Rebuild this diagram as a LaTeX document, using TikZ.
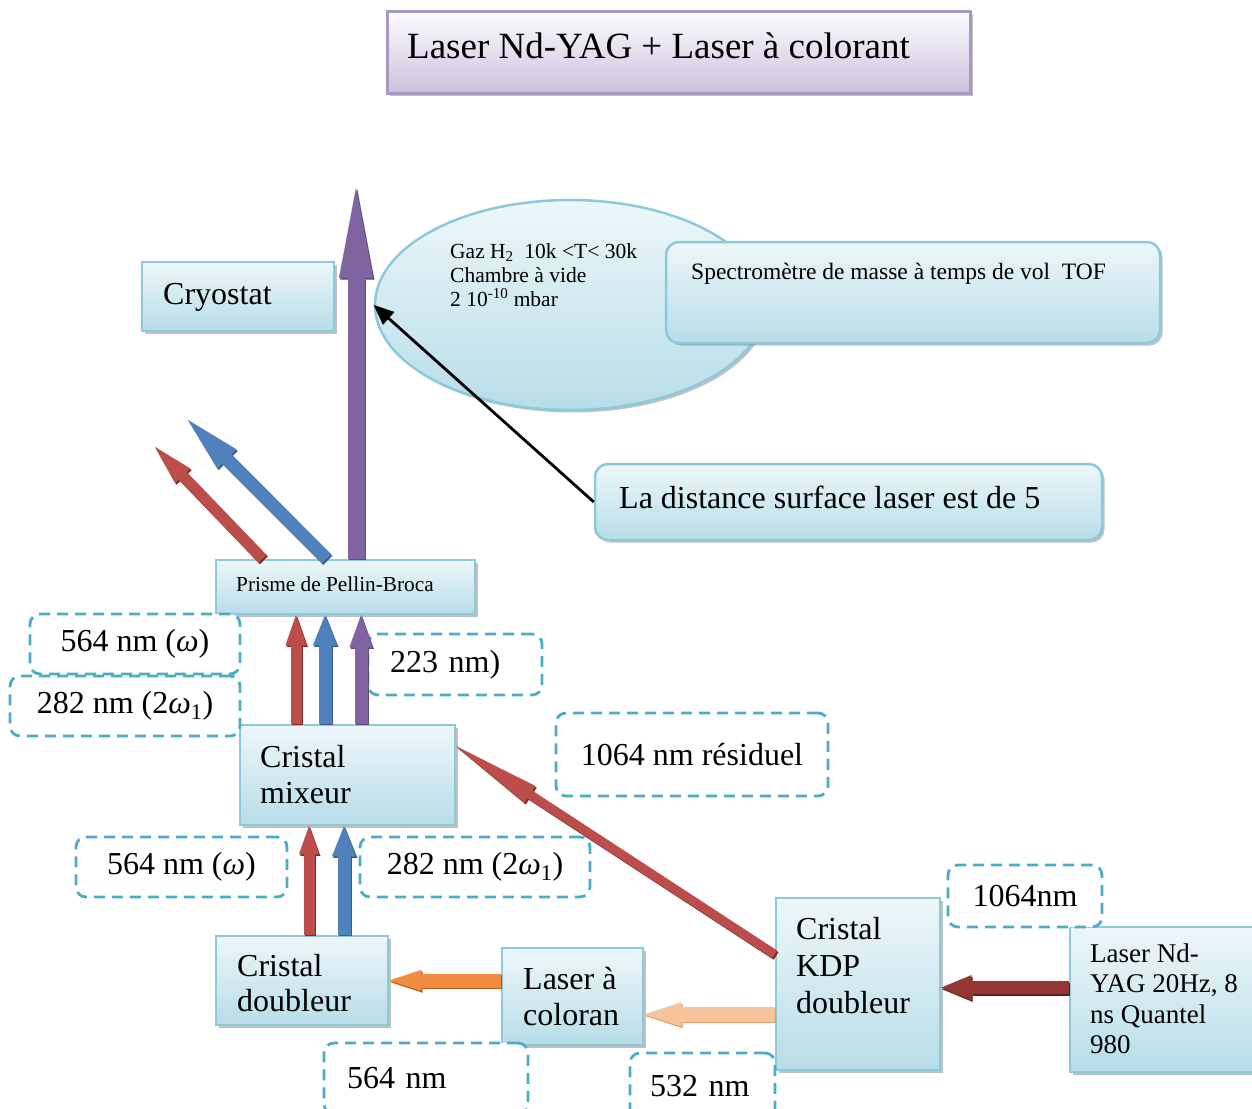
\documentclass[tikz,border=0pt]{standalone}
\usepackage{fontspec}
\setmainfont{Liberation Serif}
\usetikzlibrary{arrows.meta,shapes.geometric,shadows,calc}
\definecolor{boxb}{HTML}{B7DDE8}
\definecolor{boxl}{HTML}{EDF7FA}
\definecolor{boxd}{HTML}{8CC9DA}
\definecolor{dashc}{HTML}{4BACC6}
\definecolor{ttop}{HTML}{FDFCFF}
\definecolor{tbot}{HTML}{CBC1DD}
\definecolor{tbord}{HTML}{A899C4}
\definecolor{purp}{HTML}{8064A2}
\definecolor{purpd}{HTML}{5F497A}
\definecolor{blu}{HTML}{4F81BD}
\definecolor{blud}{HTML}{385D8A}
\definecolor{redd}{HTML}{BB4D4A}
\definecolor{reddk}{HTML}{7F2A28}
\definecolor{dred}{HTML}{943634}
\definecolor{dredd}{HTML}{5E1F1E}
\definecolor{oran}{HTML}{F28C40}
\definecolor{orand}{HTML}{B65708}
\definecolor{peach}{HTML}{F8C39A}
\definecolor{peachd}{HTML}{E09A66}
\newcommand\mkbox[6]{\node[#1,minimum width={#4-#2},minimum height={#5-#3}] (#6) at ({(#2+#4)/2},{(#3+#5)/2}) {};}
\newcommand\mkdash[7]{\node[dbox,#1,minimum width={#4-#2},minimum height={#5-#3}] (#6) at ({(#2+#4)/2},{(#3+#5)/2}) {#7};}
\newcommand\blockarrow[7]{%
  \draw[ba={#2}{#3}{#4}{#5},transform canvas={shift={(1.3pt,-1.6pt)}}] #6 -- #7;
  \draw[ba={#1}{#3}{#4}{#5}] #6 -- #7;}
\newcommand\om{\textit{ω}}
\tikzset{ba/.style n args={4}{color=#1,line width=#2,-{Triangle[width=#3,length=#4,line width=0.01pt]}}}
\begin{document}
\begin{tikzpicture}[x=1pt,y=-1pt,
  shad/.style={drop shadow={shadow xshift=2.5pt,shadow yshift=-2.5pt,fill=black!55,opacity=0.45}},
  sbox/.style={draw=boxd,line width=2.5pt,top color=boxl,bottom color=boxb,inner sep=0pt,shad},
  rbox/.style={sbox,rounded corners=13pt},
  tbox/.style={draw=tbord,line width=3pt,top color=ttop,bottom color=tbot,inner sep=0pt,shad},
  ellbox/.style={ellipse,draw=boxd,line width=2.5pt,top color=boxl,bottom color=boxb,inner sep=0pt,shad},
  dbox/.style={draw=dashc,line width=2.8pt,dash pattern=on 11pt off 7pt,rounded corners=10pt,fill=white,inner sep=0pt,align=left,font=\fontsize{32}{36}\selectfont},
  tx/.style={inner sep=0pt,align=left,font=\fontsize{32}{36}\selectfont}]
\useasboundingbox (0,0) rectangle (1252,1108);
% title
\mkbox{tbox}{387}{12}{970}{93}{title}
\node[tx,font=\fontsize{37}{42}\selectfont,anchor=base west] (title-t) at (407,59) {Laser Nd-YAG + Laser à colorant};
% vacuum chamber
\node[ellbox,minimum width=390,minimum height=210] (ell) at (570,305) {};
\node[tx,font=\fontsize{21.5}{24}\selectfont,anchor=north west] (ell-t) at (450,243.3) {Gaz H\textsubscript{2}\ \ 10k <T< 30k\\Chambre à vide\\2 10\textsuperscript{-10} mbar};
\mkbox{rbox}{666}{242}{1160}{343}{spec}
\node[tx,font=\fontsize{23.5}{28}\selectfont,anchor=base west] (spec-t) at (691,279) {Spectromètre de masse à temps de vol\ \ TOF};
\mkbox{sbox}{142}{262}{334}{331}{cryo}
\node[tx,anchor=base west] (cryo-t) at (163,304) {Cryostat};
\mkbox{rbox}{595}{464}{1102}{540}{dist}
\node[tx,anchor=base west] (dist-t) at (619,508) {La distance surface laser est de 5};
% optics
\mkbox{sbox}{216}{560}{475}{614}{prism}
\node[tx,font=\fontsize{21.3}{24}\selectfont,anchor=base west] (prism-t) at (236,591) {Prisme de Pellin-Broca};
\mkbox{sbox}{240}{725}{455}{825}{mixeur}
\node[tx,anchor=north west] (mixeur-t) at (260,745) {Cristal\\mixeur};
\mkbox{sbox}{216}{936}{388}{1025}{doubleur}
\node[tx,font=\fontsize{32}{35}\selectfont,anchor=north west] (doubleur-t) at (237,954) {Cristal\\doubleur};
\mkbox{sbox}{502}{948}{643}{1045}{coloran}
\node[tx,anchor=north west] (coloran-t) at (523,967) {Laser à\\coloran};
\mkbox{sbox}{776}{898}{940}{1070}{kdp}
\node[tx,font=\fontsize{32}{37}\selectfont,anchor=north west] (kdp-t) at (796,917) {Cristal\\KDP\\doubleur};
\mkbox{sbox}{1070}{927}{1265}{1072}{ndyag}
\node[tx,font=\fontsize{27}{30.5}\selectfont,anchor=north west] (ndyag-t) at (1090,943.5) {Laser Nd-\\YAG 20Hz, 8\\ns Quantel\\980};
% dashed labels
\mkdash{}{30}{614}{240}{674}{d1}{564 nm (\om)}
\mkdash{}{10}{676}{240}{736}{d2}{282 nm (2\om\textsubscript{1})}
\mkdash{text width=130pt,inner xsep=22pt}{368}{634}{542}{695}{d3}{223 nm)}
\mkdash{}{556}{713}{828}{796}{d4}{1064 nm résiduel}
\mkdash{}{76}{837}{287}{897}{d5}{564 nm (\om)}
\mkdash{}{360}{837}{590}{897}{d6}{282 nm (2\om\textsubscript{1})}
\mkdash{}{948}{865}{1102}{927}{d7}{1064nm}
\mkdash{text width=158pt,inner xsep=23pt}{324}{1043}{528}{1114}{d8}{564 nm}
\mkdash{text width=105pt,inner xsep=20pt}{630}{1053}{775}{1120}{d9}{532 nm}
% beams
\coordinate (ptip) at (356,188);
\blockarrow{purp}{purpd}{17pt}{34pt}{90pt}{(prism.north -| ptip)}{(ptip)}
\coordinate (btip) at (188,420);
\blockarrow{blu}{blud}{13pt}{27pt}{55pt}{([xshift=-19pt]prism.north)}{(btip)}
\coordinate (rtip) at (155,447);
\blockarrow{redd}{reddk}{11pt}{21pt}{40pt}{([xshift=-83pt]prism.north)}{(rtip)}
\coordinate (xr) at (296,0);
\coordinate (xb) at (325,0);
\coordinate (xp) at (361,0);
\blockarrow{redd}{reddk}{11pt}{21pt}{30pt}{(mixeur.north -| xr)}{(prism.south -| xr)}
\blockarrow{blu}{blud}{13pt}{24pt}{30pt}{(mixeur.north -| xb)}{(prism.south -| xb)}
\blockarrow{purp}{purpd}{13pt}{23pt}{32pt}{(mixeur.north -| xp)}{(prism.south -| xp)}
\coordinate (xr2) at (309,0);
\coordinate (xb2) at (344,0);
\blockarrow{redd}{reddk}{11pt}{20pt}{28pt}{(doubleur.north -| xr2)}{(mixeur.south -| xr2)}
\blockarrow{blu}{blud}{13pt}{24pt}{30pt}{(doubleur.north -| xb2)}{(mixeur.south -| xb2)}
\blockarrow{redd}{reddk}{9pt}{20pt}{88pt}{($(kdp.north west)!0.33!(kdp.south west)$)}{($(mixeur.north east)!0.22!(mixeur.south east)$)}
\blockarrow{oran}{orand}{14pt}{21pt}{32pt}{(coloran.west |- doubleur.east)}{(doubleur.east)}
\coordinate (pk) at ($(kdp.north west)!0.674!(kdp.south west)$);
\blockarrow{peach}{peachd}{15pt}{24pt}{37pt}{(pk)}{(coloran.east |- pk)}
\coordinate (nk) at ($(ndyag.north west)!0.42!(ndyag.south west)$);
\blockarrow{dred}{dredd}{13pt}{25pt}{30pt}{(nk)}{(kdp.east |- nk)}
\draw[line width=2.8pt,-{Triangle[length=20pt,width=17pt,line width=0.01pt]}] (dist.west) -- (ell.west);
\end{tikzpicture}
\end{document}
